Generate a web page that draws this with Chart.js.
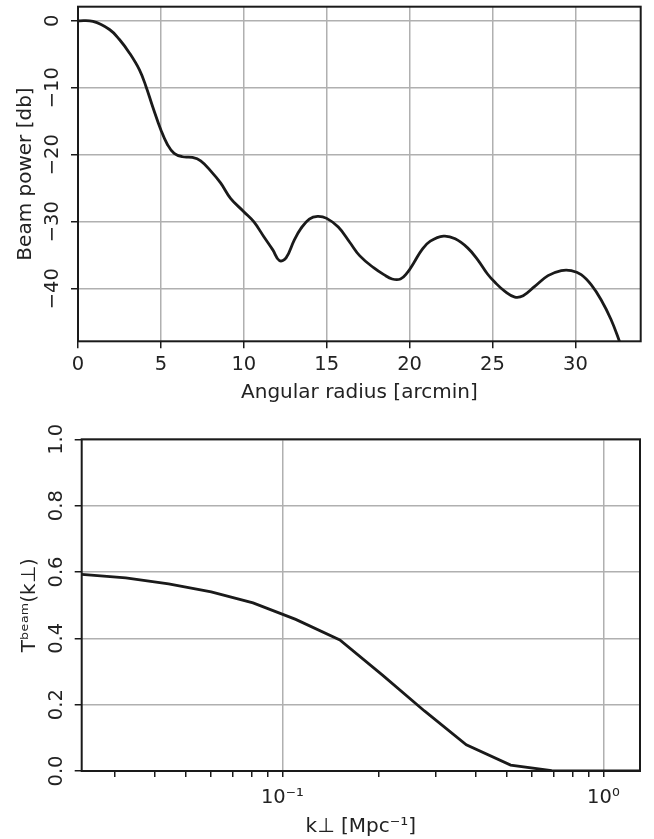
<!DOCTYPE html>
<html>
<head>
<meta charset="utf-8">
<script src="https://cdn.jsdelivr.net/npm/chart.js@4"></script>
<style>
  html, body { margin: 0; padding: 0; background: #fff; }
  #beamBox { position: absolute; left: 0; top: 0; width: 654px; height: 410px; }
  #transferBox { position: absolute; left: 0; top: 410px; width: 654px; height: 429px; }
</style>
</head>
<body>
<div id="beamBox"><canvas id="beamChart"></canvas></div>
<div id="transferBox"><canvas id="transferChart"></canvas></div>
<script>
// beam profile (top panel)
const radiusArcmin = [0, 0.9, 1.9, 2.5, 3.1, 3.7, 4.1, 4.5, 5.0, 5.4, 5.8, 6.3, 6.9, 7.4, 8.0, 8.6, 9.2, 10.0,
  10.6, 11.2, 11.75, 12.15, 12.55, 13.05, 13.45, 13.95, 14.45, 15.0, 15.7, 16.4, 17.0, 17.85, 18.45, 18.95,
  19.45, 19.85, 20.25, 20.75, 21.25, 22.05, 22.75, 23.5, 24.1, 24.7, 25.15, 25.75, 26.35, 26.85, 27.55,
  28.35, 29.15, 29.75, 30.35, 30.95, 31.55, 32.15, 32.65, 32.9];
const beamPowerDb = [0, -0.1, -1.3, -2.8, -4.8, -7.3, -9.8, -12.8, -16.3, -18.5, -19.8, -20.3, -20.4, -20.9, -22.4,
  -24.2, -26.5, -28.5, -30.0, -32.2, -34.2, -35.8, -35.4, -32.7, -31.0, -29.6, -29.2, -29.5, -30.8, -33.1,
  -35.1, -36.9, -37.9, -38.55, -38.55, -37.65, -36.15, -34.15, -32.9, -32.15, -32.55, -33.9, -35.65, -37.8,
  -39.05, -40.4, -41.25, -41.05, -39.65, -38.05, -37.3, -37.3, -37.9, -39.4, -41.65, -44.6, -47.8, -49.6];
const radiusTicks = [0, 5, 10, 15, 20, 25, 30];
const powerTicks = [-40, -30, -20, -10, 0];

// beam transfer function (bottom panel)
const kPerp = [0.0237, 0.0325, 0.0442, 0.060, 0.081, 0.110, 0.151, 0.205, 0.277, 0.374, 0.514, 0.69, 0.93, 1.3];
const beamTransfer = [0.593, 0.582, 0.564, 0.540, 0.507, 0.457, 0.395, 0.289, 0.181, 0.079, 0.018, 0.001, 0.0, 0.0];
const kTicks = [0.03, 0.04, 0.05, 0.06, 0.07, 0.08, 0.09, 0.1, 0.2, 0.3, 0.4, 0.5, 0.6, 0.7, 0.8, 0.9, 1];
const kMajorTicks = [0.1, 1];
const kMajorLabels = ['10⁻¹', '10⁰'];
const transferTicks = [0, 0.2, 0.4, 0.6, 0.8, 1.0];

const ink = '#1a1a1a';
const gridGray = '#b0b0b0';
const tickFont = { family: 'DejaVu Sans', size: 19.5, lineHeight: 1 };
const titleFont = { family: 'DejaVu Sans', size: 20 };

// matplotlib-style box round the plot area
const frame = {
  id: 'frame',
  afterDraw(chart) {
    const { ctx, chartArea: a } = chart;
    ctx.save();
    ctx.strokeStyle = ink;
    ctx.lineWidth = 2;
    ctx.strokeRect(a.left, a.top, a.right - a.left, a.bottom - a.top);
    ctx.restore();
  }
};

function useTicks(values) {
  return scale => { scale.ticks = values.map(value => ({ value })); };
}

const common = {
  responsive: true,
  maintainAspectRatio: false,
  animation: false,
  plugins: { legend: { display: false }, tooltip: { enabled: false } }
};

new Chart(document.getElementById('beamChart'), {
  type: 'line',
  data: {
    datasets: [{
      data: radiusArcmin.map((x, i) => ({ x, y: beamPowerDb[i] })),
      borderColor: ink,
      borderWidth: 2.8,
      pointRadius: 0,
      tension: 0.4,
      fill: false
    }]
  },
  options: {
    ...common,
    layout: { padding: { top: 6.7, right: 13.3, left: 0, bottom: 0 } },
    scales: {
      x: {
        type: 'linear',
        min: 0,
        max: 33.94,
        afterBuildTicks: useTicks(radiusTicks),
        border: { display: false },
        grid: { color: gridGray, lineWidth: 1.5, tickColor: ink, tickLength: 7, tickWidth: 1.5 },
        ticks: { autoSkip: false, maxRotation: 0, padding: 7, font: tickFont, color: '#222' },
        title: { display: true, text: 'Angular radius [arcmin]', font: titleFont, color: '#222', padding: { top: 0, bottom: 5.5 } },
        afterFit: s => { s.height = 68.7; s.paddingLeft = 0; s.paddingRight = 0; }
      },
      y: {
        type: 'linear',
        min: -47.85,
        max: 2.1,
        afterBuildTicks: useTicks(powerTicks),
        border: { display: false },
        grid: { color: gridGray, lineWidth: 1.5, tickColor: ink, tickLength: 7, tickWidth: 1.5 },
        ticks: {
          autoSkip: false, minRotation: 90, maxRotation: 90, crossAlign: 'center', padding: -2.4,
          font: tickFont, color: '#222',
          callback: v => (v < 0 ? '−' + Math.abs(v) : String(v))
        },
        title: { display: true, text: 'Beam power [db]', font: titleFont, color: '#222', padding: { top: 13.5, bottom: 0 } },
        afterFit: s => { s.width = 78; s.paddingTop = 0; s.paddingBottom = 0; }
      }
    }
  },
  plugins: [frame]
});

new Chart(document.getElementById('transferChart'), {
  type: 'line',
  data: {
    datasets: [{
      data: kPerp.map((x, i) => ({ x, y: beamTransfer[i] })),
      borderColor: ink,
      borderWidth: 2.8,
      pointRadius: 0,
      tension: 0,
      fill: false
    }]
  },
  options: {
    ...common,
    layout: { padding: { top: 29.3, right: 14, left: 0, bottom: 0 } },
    scales: {
      x: {
        type: 'logarithmic',
        min: kPerp[0],
        max: kPerp[kPerp.length - 1],
        afterBuildTicks: useTicks(kTicks),
        border: { display: false },
        grid: {
          color: c => (c.tick && kMajorTicks.includes(c.tick.value) ? gridGray : 'rgba(0,0,0,0)'),
          lineWidth: 1.5, tickColor: ink, tickLength: 6, tickWidth: 1.5
        },
        ticks: {
          autoSkip: false, maxRotation: 0, padding: 11.5, font: tickFont, color: '#222',
          callback: v => {
            const i = kMajorTicks.indexOf(v);
            return i >= 0 ? kMajorLabels[i] : '';
          }
        },
        title: { display: true, text: 'k⊥ [Mpc⁻¹]', font: titleFont, color: '#222', padding: { top: 0, bottom: 0 } },
        afterFit: s => { s.height = 68; s.paddingLeft = 0; s.paddingRight = 0; }
      },
      y: {
        type: 'linear',
        min: 0,
        max: 1,
        afterBuildTicks: useTicks(transferTicks),
        border: { display: false },
        grid: { color: gridGray, lineWidth: 1.5, tickColor: ink, tickLength: 7, tickWidth: 1.5 },
        ticks: {
          autoSkip: false, minRotation: 90, maxRotation: 90, crossAlign: 'center', padding: 2.7,
          font: tickFont, color: '#222',
          callback: v => v.toFixed(1)
        },
        title: { display: true, text: 'Tᵇᵉᵃᵐ(k⊥)', font: titleFont, color: '#222', padding: { top: 17.5, bottom: 0 } },
        afterFit: s => { s.width = 81.7; s.paddingTop = 0; s.paddingBottom = 0; }
      }
    }
  },
  plugins: [frame]
});
</script>
</body>
</html>
